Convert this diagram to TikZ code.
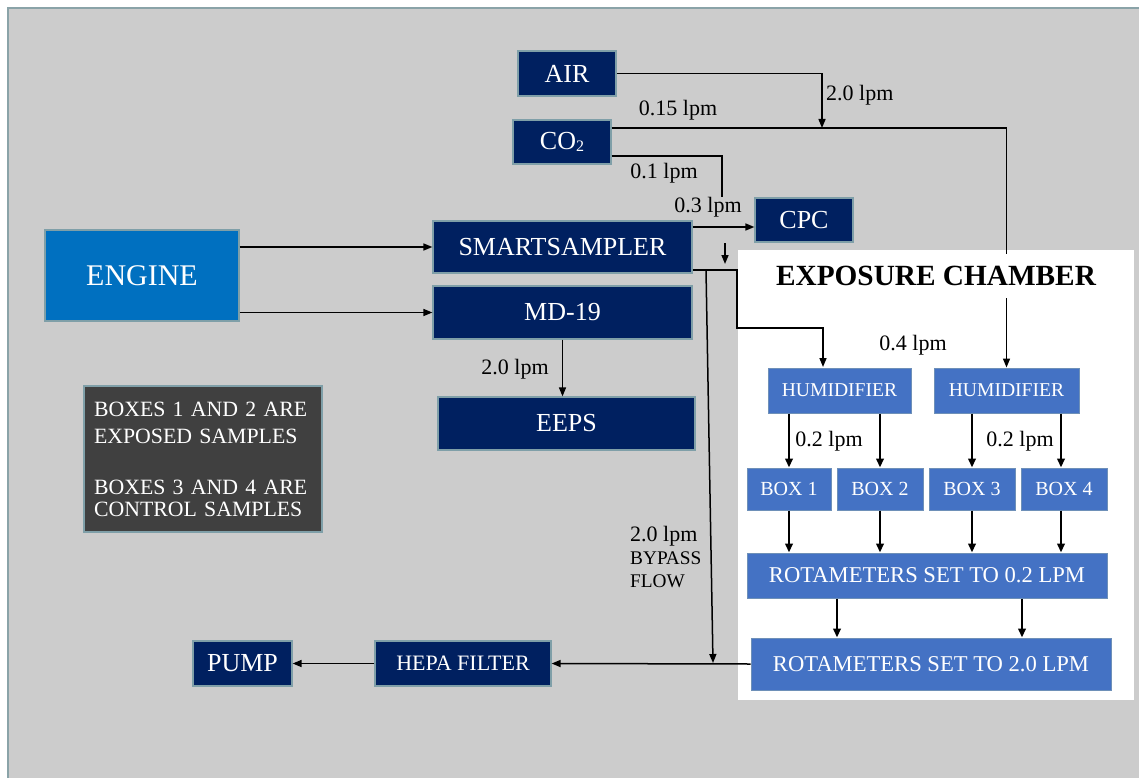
\documentclass[tikz,border=0pt]{standalone}
\usepackage{fontspec}
\setmainfont{Liberation Serif}
\usetikzlibrary{arrows.meta}
\definecolor{bggray}{HTML}{CCCCCC}
\definecolor{frameline}{HTML}{8AA3A8}
\definecolor{navy}{HTML}{002060}
\definecolor{engblue}{HTML}{0070C0}
\definecolor{midblue}{HTML}{4472C4}
\definecolor{notegray}{HTML}{404040}
\definecolor{edgeteal}{HTML}{7F9FA8}
\definecolor{edgeblue}{HTML}{6E90B8}
\tikzset{
  fs/.style={font=\fontsize{#1}{#1}\selectfont},
  navybox/.style={draw=edgeteal, line width=1.2pt, fill=navy, text=white, inner sep=0pt, fs=26},
  bluebox/.style={draw=edgeblue, line width=1pt, fill=midblue, text=white, inner sep=0pt, fs=19.6},
  lbl/.style={text=black, inner sep=0pt, fs=22},
  arr/.style={line width=1.5pt, -{Triangle[length=9pt,width=7pt]}},
  plain/.style={line width=1.5pt},
  carr/.style={line width=2.2pt, -{Triangle[length=9pt,width=7.5pt]}},
}
\begin{document}
\begin{tikzpicture}[x=1pt,y=-1pt]
\useasboundingbox (0,0) rectangle (1139,778);
\fill[white] (0,0) rectangle (1139,778);
\filldraw[fill=bggray, draw=frameline, line width=1.5pt] (8,8) rectangle (1160,800);
% exposure chamber
\fill[white] (738,250) rectangle (1134,700);

% nodes
\node[navybox, minimum width=98, minimum height=45] (AIR) at (567,73.5) {AIR};
\node[navybox, minimum width=98, minimum height=44] (CO2) at (562,142) {CO{\fontsize{16}{16}\selectfont\raisebox{-1.5pt}{2}}};
\node[navybox, minimum width=98, minimum height=44] (CPC) at (804,220) {CPC};
\node[navybox, minimum width=259, minimum height=52] (SMART) at (562.5,247) {SMARTSAMPLER};
\node[navybox, minimum width=259, minimum height=53] (MD) at (562.5,312.5) {MD-19};
\node[navybox, minimum width=257, minimum height=53] (EEPS) at (566.5,423.5) {EEPS};
\node[navybox, fill=engblue, fs=30, minimum width=194, minimum height=91] (ENGINE) at (142,275.5) {ENGINE};
\node[navybox, fill=notegray, fs=21.8, minimum width=238, minimum height=146, align=left, text width=218] (NOTE) at (203,459)
  {\fontsize{21.8}{27}\selectfont BOXES 1 AND 2 ARE\\EXPOSED SAMPLES\\[24pt]BOXES 3 AND 4 ARE\\CONTROL SAMPLES};
\node[navybox, minimum width=99, minimum height=45] (PUMP) at (242.5,663.5) {PUMP};
\node[navybox, fs=22, minimum width=176, minimum height=45] (HEPA) at (463,663.5) {HEPA FILTER};

\node[bluebox, minimum width=143, minimum height=45] (HUM1) at (839.5,390.5) {HUMIDIFIER};
\node[bluebox, minimum width=145, minimum height=45] (HUM2) at (1006.5,390.5) {HUMIDIFIER};
\node[bluebox, fs=20, minimum width=84, minimum height=42] (BOX1) at (789,489) {BOX 1};
\node[bluebox, fs=20, minimum width=86, minimum height=42] (BOX2) at (880,489) {BOX 2};
\node[bluebox, fs=20, minimum width=86, minimum height=42] (BOX3) at (972,489) {BOX 3};
\node[bluebox, fs=20, minimum width=86, minimum height=42] (BOX4) at (1064,489) {BOX 4};
\node[bluebox, fs=22.6, minimum width=360, minimum height=45] (ROT1) at (927,575.5) {ROTAMETERS SET TO 0.2 LPM};
\node[bluebox, fs=22.6, minimum width=360, minimum height=52] (ROT2) at (931,664) {ROTAMETERS SET TO 2.0 LPM};

% coordinates
\coordinate (c1) at (822,128);
\coordinate (c2) at (722,197);
\coordinate (s1) at ([yshift=20pt]SMART.east);
\coordinate (s2) at ([yshift=-23pt]SMART.east);
\coordinate (j1) at (737,328);
\coordinate (h1) at (823,367);
\coordinate (d1) at (725,243);
\coordinate (d2) at (725,264);
\coordinate (b1) at (706,270);
\coordinate (b2) at (713,663);
\coordinate (r1) at ([xshift=-90pt]ROT1.south);
\coordinate (r2) at ([xshift=95pt]ROT1.south);

% connectors
\draw[arr] (AIR.east) -| (c1);
\draw[arr] (CO2.east |- c1) -| (HUM2.north);
\draw[plain] ([yshift=-14pt]CO2.east) -| (c2);
\draw[arr] (s1) -- (s1 -| CPC.west);
\draw[arr] (d1) -- (d2);
\draw[arr] (s2) -| (j1) -| (h1);
\draw[arr] (b1) -- (b2);
\draw[arr] (ROT2.west) -- (HEPA.east);
\draw[arr] (HEPA.west) -- (PUMP.east);
\draw[arr] (ENGINE.east |- SMART.west) -- (SMART.west);
\draw[arr] (ENGINE.east |- MD.west) -- (MD.west);
\draw[arr] (MD.south) -- (MD.south |- EEPS.north);

\draw[carr] (BOX1.north |- HUM1.south) -- (BOX1.north);
\draw[carr] (BOX2.north |- HUM1.south) -- (BOX2.north);
\draw[carr] (BOX3.north |- HUM2.south) -- (BOX3.north);
\draw[carr] ([xshift=-3pt]BOX4.north |- HUM2.south) -- ([xshift=-3pt]BOX4.north);
\foreach \b in {BOX1,BOX2,BOX3} \draw[carr] (\b.south) -- (\b.south |- ROT1.north);
\draw[carr] ([xshift=-3pt]BOX4.south) -- ([xshift=-3pt]BOX4.south |- ROT1.north);
\draw[carr] (r1) -- (r1 |- ROT2.north);
\draw[carr] (r2) -- (r2 |- ROT2.north);

% chamber title (covers the line crossing it)
\node[fill=white, inner sep=0pt, minimum width=330, minimum height=44, font=\bfseries\fontsize{29.3}{29.3}\selectfont] (TITLE) at (936,276) {EXPOSURE CHAMBER};

% labels
\node[lbl] (l1) at (678,110) {0.15 lpm};
\node[lbl, anchor=west] (l2) at (826,95) {2.0 lpm};
\node[lbl] (l3) at (664,173) {0.1 lpm};
\node[lbl] (l4) at (708,207) {0.3 lpm};
\node[lbl] (l5) at (913,345) {0.4 lpm};
\node[lbl] (l6) at (829,441) {0.2 lpm};
\node[lbl] (l7) at (1020,441) {0.2 lpm};
\node[lbl] (l8) at (515,369) {2.0 lpm};
\node[lbl, anchor=north west, align=left, font=\fontsize{19.3}{23}\selectfont] (l9) at (630,526) {{\fontsize{22}{22}\selectfont 2.0 lpm}\\BYPASS\\FLOW};
\end{tikzpicture}
\end{document}
